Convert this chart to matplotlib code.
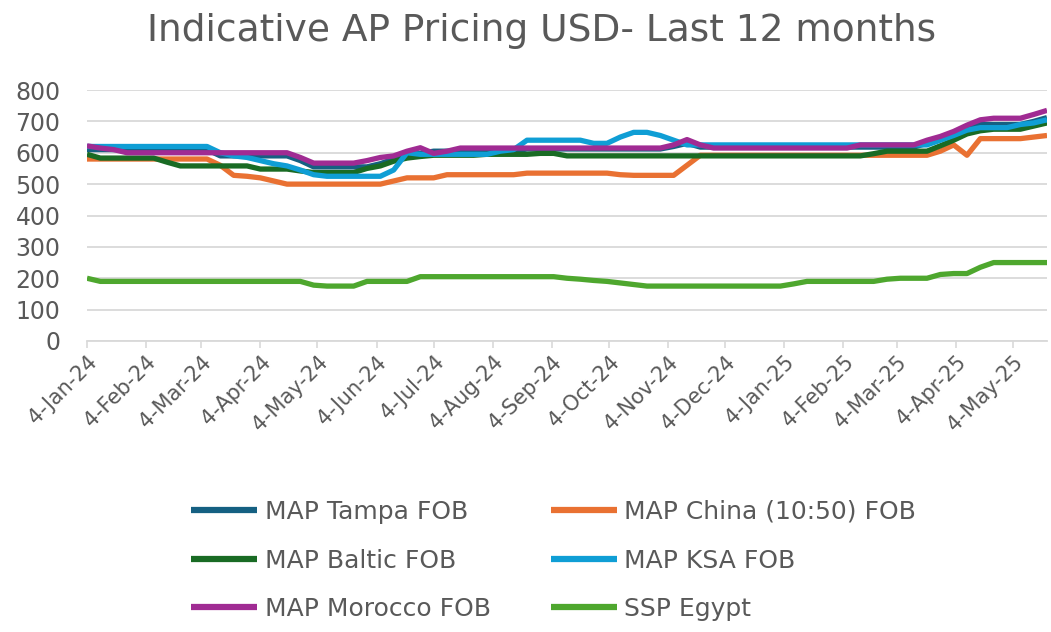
import matplotlib
matplotlib.use("Agg")
import matplotlib.pyplot as plt
import matplotlib.dates as mdates
import pandas as pd

# ---- data (weekly, from 4-Jan-24) ----
start_date = "2024-01-04"
n_weeks = 73

tampa = [610, 610, 610, 610, 610, 610, 610, 610, 610, 610,
         590, 590, 590, 590, 590, 590, 575, 555, 555, 555,
         555, 555, 565, 580, 598, 598, 605, 605, 605, 605,
         605, 605, 605, 612, 612, 612, 612, 612, 612, 612,
         612, 612, 612, 612, 620, 630, 618, 618, 618, 618,
         618, 618, 618, 618, 618, 618, 618, 618, 618, 618,
         618, 618, 618, 630, 645, 660, 678, 690, 690, 690,
         690, 700, 712]

china = [580, 580, 580, 580, 580, 580, 580, 580, 580, 580,
         560, 528, 525, 520, 510, 500, 500, 500, 500, 500,
         500, 500, 500, 510, 520, 520, 520, 530, 530, 530,
         530, 530, 530, 535, 535, 535, 535, 535, 535, 535,
         530, 528, 528, 528, 528, 560, 592, 592, 592, 592,
         592, 592, 592, 592, 592, 592, 592, 592, 592, 592,
         592, 592, 592, 592, 605, 625, 592, 645, 645, 645,
         645, 650, 655]

baltic = [595, 583, 583, 583, 583, 583, 570, 558, 558, 558,
          558, 558, 558, 548, 548, 548, 542, 537, 537, 537,
          537, 550, 558, 573, 583, 588, 592, 592, 592, 592,
          595, 595, 595, 595, 598, 598, 590, 590, 590, 590,
          590, 590, 590, 590, 590, 590, 590, 590, 590, 590,
          590, 590, 590, 590, 590, 590, 590, 590, 590, 597,
          605, 605, 605, 605, 622, 640, 660, 670, 675, 675,
          675, 685, 695]

ksa = [620, 620, 620, 620, 620, 620, 620, 620, 620, 620,
       600, 590, 585, 575, 565, 558, 545, 530, 525, 525,
       525, 525, 525, 545, 600, 595, 595, 595, 595, 595,
       595, 605, 610, 640, 640, 640, 640, 640, 630, 630,
       650, 665, 665, 655, 640, 625, 625, 625, 625, 625,
       625, 625, 625, 625, 625, 625, 625, 625, 625, 625,
       625, 625, 625, 625, 640, 655, 672, 680, 680, 680,
       690, 695, 705]

morocco = [622, 615, 610, 600, 600, 600, 600, 600, 600, 600,
           600, 600, 600, 600, 600, 600, 585, 567, 567, 567,
           567, 575, 585, 590, 605, 616, 598, 605, 615, 615,
           615, 615, 615, 615, 615, 615, 615, 615, 615, 615,
           615, 615, 615, 615, 625, 642, 625, 615, 615, 615,
           615, 615, 615, 615, 615, 615, 615, 615, 625, 625,
           625, 625, 625, 640, 652, 668, 688, 705, 710, 710,
           710, 722, 735]

egypt = [200, 190, 190, 190, 190, 190, 190, 190, 190, 190,
         190, 190, 190, 190, 190, 190, 190, 178, 175, 175,
         175, 190, 190, 190, 190, 205, 205, 205, 205, 205,
         205, 205, 205, 205, 205, 205, 200, 197, 193, 190,
         185, 180, 175, 175, 175, 175, 175, 175, 175, 175,
         175, 175, 175, 182, 190, 190, 190, 190, 190, 190,
         197, 200, 200, 200, 212, 215, 215, 235, 250, 250,
         250, 250, 250]

series_names = ["MAP Tampa FOB", "MAP China (10:50) FOB", "MAP Baltic FOB",
                "MAP KSA FOB", "MAP Morocco FOB", "SSP Egypt"]
series_values = [tampa, china, baltic, ksa, morocco, egypt]
series_colors = ["#156082", "#E97132", "#196B24", "#0F9ED5", "#A02B93", "#4EA72E"]

title = "Indicative AP Pricing USD- Last 12 months"
y_ticks = [0, 100, 200, 300, 400, 500, 600, 700, 800]

dates = pd.date_range(start_date, periods=n_weeks, freq="7D")
tick_dates = pd.date_range("2024-01-01", periods=17, freq="MS") + pd.Timedelta(days=3)

# ---- figure ----
W, H = 1051, 632
fig = plt.figure(figsize=(W / 100, H / 100), dpi=100)
ax = fig.add_axes([87 / W, 1 - 341 / H, (1047 - 87) / W, (341 - 90) / H])

text_col = "#595959"
grid_col = "#D9D9D9"

for name, vals, col in zip(series_names, series_values, series_colors):
    ax.plot(dates, vals, color=col, lw=3.8, label=name,
            solid_joinstyle="round", solid_capstyle="butt")

ax.set_ylim(0, 800)
ax.set_xlim(dates[0], dates[-1])
ax.set_yticks(y_ticks)
ax.yaxis.grid(True, color=grid_col, lw=1.3)
ax.set_axisbelow(True)
for s in ["top", "right", "left"]:
    ax.spines[s].set_visible(False)
ax.spines["bottom"].set_color(grid_col)
ax.spines["bottom"].set_linewidth(1.3)

ax.tick_params(axis="y", length=0, labelsize=17, labelcolor=text_col, pad=19)
ax.set_xticks(tick_dates)
ax.xaxis.set_major_formatter(mdates.DateFormatter("%-d-%b-%y"))
ax.tick_params(axis="x", length=5, width=1.2, color=grid_col, labelsize=15,
               labelcolor=text_col, pad=3)
for lab in ax.get_xticklabels():
    lab.set_rotation(45)
    lab.set_ha("right")
    lab.set_rotation_mode("anchor")

fig.text(542 / W, 1 - 31 / H, title, ha="center", va="center",
         fontsize=27, color=text_col)

handles, labels = ax.get_legend_handles_labels()
order = [0, 2, 4, 1, 3, 5]  # row-wise reading in a 2-column legend
leg = fig.legend([handles[i] for i in order], [labels[i] for i in order],
                 loc="upper left", bbox_to_anchor=(191 / W, 1 - 500 / H),
                 ncol=2, frameon=False, fontsize=18, handlelength=2.65,
                 handletextpad=0.3, columnspacing=2.4, labelspacing=0.98,
                 borderpad=0, borderaxespad=0)
for t in leg.get_texts():
    t.set_color(text_col)
for l in leg.get_lines():
    l.set_linewidth(4.5)

fig.savefig("out.png", dpi=100)
